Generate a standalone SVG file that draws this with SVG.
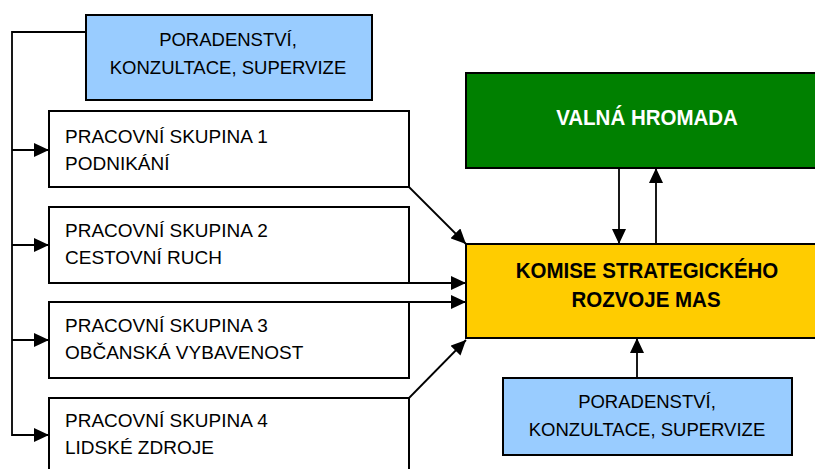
<svg xmlns="http://www.w3.org/2000/svg" width="815" height="469" viewBox="0 0 815 469">
<style>
.box{stroke:#000;stroke-width:2}
.white{fill:#fff}
.blue{fill:#99CCFF}
.green{fill:#008000}
.yellow{fill:#FFCC00}
.t{font-family:"Liberation Sans",Arial,sans-serif;font-size:19px;fill:#000}
.tb{font-family:"Liberation Sans",Arial,sans-serif;font-size:18.5px;fill:#000;text-anchor:middle}
.bold{font-family:"Liberation Sans",Arial,sans-serif;font-size:20.5px;font-weight:bold;text-anchor:middle}
.conn{stroke:#000;stroke-width:1.8;fill:none}
</style>
<defs>
<marker id="arr" markerUnits="userSpaceOnUse" markerWidth="15" markerHeight="14" refX="15" refY="7" orient="auto">
<path d="M0,0 L15,7 L0,14 z" fill="#000"/>
</marker>
</defs>
<rect width="815" height="469" fill="#fff"/>

<g id="connectors">
<polyline class="conn" points="86,32 12,32 12,436"/>
<line class="conn" x1="12" y1="150" x2="49" y2="150" marker-end="url(#arr)"/>
<line class="conn" x1="12" y1="245" x2="49" y2="245" marker-end="url(#arr)"/>
<line class="conn" x1="12" y1="340" x2="49" y2="340" marker-end="url(#arr)"/>
<line class="conn" x1="12" y1="435" x2="49" y2="435" marker-end="url(#arr)"/>
<line class="conn" x1="409" y1="187" x2="466" y2="244" marker-end="url(#arr)"/>
<line class="conn" x1="409" y1="283" x2="466" y2="283" marker-end="url(#arr)"/>
<line class="conn" x1="409" y1="302" x2="466" y2="302" marker-end="url(#arr)"/>
<line class="conn" x1="409" y1="398" x2="466" y2="340" marker-end="url(#arr)"/>
<line class="conn" x1="619" y1="168" x2="619" y2="244" marker-end="url(#arr)"/>
<line class="conn" x1="656" y1="244" x2="656" y2="168" marker-end="url(#arr)"/>
<line class="conn" x1="637" y1="378" x2="637" y2="338" marker-end="url(#arr)"/>
</g>

<g id="poradenstvi-top">
<rect class="box blue" x="86" y="15" width="286" height="85"/>
<text class="tb" x="228" y="46">PORADENSTVÍ,</text>
<text class="tb" x="228" y="74">KONZULTACE, SUPERVIZE</text>
</g>

<g id="skupina1">
<rect class="box white" x="49" y="111" width="360" height="76"/>
<text class="t" x="65" y="143">PRACOVNÍ SKUPINA 1</text>
<text class="t" x="65" y="170">PODNIKÁNÍ</text>
</g>

<g id="skupina2">
<rect class="box white" x="49" y="207" width="360" height="76"/>
<text class="t" x="65" y="237">PRACOVNÍ SKUPINA 2</text>
<text class="t" x="65" y="264">CESTOVNÍ RUCH</text>
</g>

<g id="skupina3">
<rect class="box white" x="49" y="302" width="360" height="76"/>
<text class="t" x="65" y="332">PRACOVNÍ SKUPINA 3</text>
<text class="t" x="65" y="359">OBČANSKÁ VYBAVENOST</text>
</g>

<g id="skupina4">
<rect class="box white" x="49" y="398" width="360" height="78"/>
<text class="t" x="65" y="427">PRACOVNÍ SKUPINA 4</text>
<text class="t" x="65" y="454">LIDSKÉ ZDROJE</text>
</g>

<g id="valna-hromada">
<rect class="box green" x="466" y="73" width="360" height="95"/>
<text class="bold" fill="#fff" transform="translate(647,124.5) scale(1,1.07)">VALNÁ HROMADA</text>
</g>

<g id="komise">
<rect class="box yellow" x="466" y="244" width="360" height="94"/>
<text class="bold" fill="#000" transform="translate(647,277.5) scale(1,1.07)">KOMISE STRATEGICKÉHO</text>
<text class="bold" fill="#000" transform="translate(646,307) scale(1,1.07)">ROZVOJE MAS</text>
</g>

<g id="poradenstvi-bottom">
<rect class="box blue" x="503" y="378" width="289" height="77"/>
<text class="tb" x="647" y="408">PORADENSTVÍ,</text>
<text class="tb" x="647" y="436">KONZULTACE, SUPERVIZE</text>
</g>
</svg>
